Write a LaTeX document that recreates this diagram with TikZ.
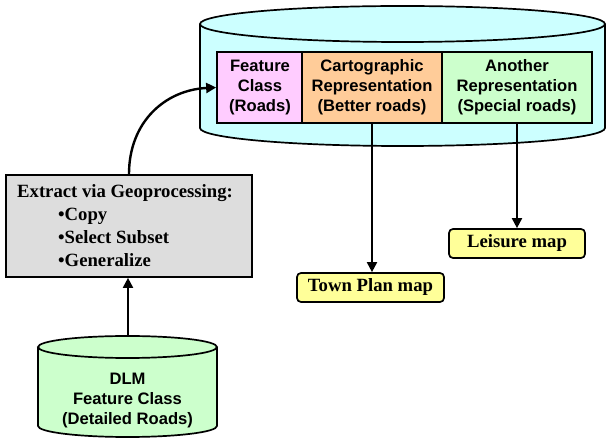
\documentclass[tikz,border=0pt]{standalone}
\usepackage{fontspec}
\setmainfont{Liberation Serif}
\setsansfont{Liberation Sans}
\usetikzlibrary{arrows.meta}

\definecolor{dbcyan}{HTML}{CCFFFF}
\definecolor{fcpink}{HTML}{FFCCFF}
\definecolor{reporange}{HTML}{FFCC99}
\definecolor{repgreen}{HTML}{CCFFCC}
\definecolor{mapyellow}{HTML}{FFFF99}
\definecolor{procgray}{HTML}{DDDDDD}

\tikzset{
  rep/.style={draw, line width=1.7pt, minimum height=71pt, inner sep=0pt,
    align=center, font=\sffamily\bfseries\fontsize{16.6}{20}\selectfont},
  mapbox/.style={draw, line width=1.7pt, fill=mapyellow, rounded corners=4pt,
    minimum height=29pt, inner sep=0pt,
    font=\rmfamily\bfseries\fontsize{18.7}{23}\selectfont},
  flow/.style={line width=1.9pt, -{Triangle[length=10pt,width=10pt]}},
  cyl/.style={line width=1.7pt},
}

\begin{document}
\begin{tikzpicture}[x=1pt,y=-1pt]
\useasboundingbox (0,0) rectangle (606,438);

% geodatabase holding the feature class and its representations
\fill[dbcyan] (200,24) -- (200,128)
  arc[start angle=180,end angle=360,x radius=202.5pt,y radius=18pt]
  -- (605,24) -- cycle;
\draw[cyl] (200,24) -- (200,128)
  arc[start angle=180,end angle=360,x radius=202.5pt,y radius=18pt]
  -- (605,24);
\draw[cyl, fill=dbcyan] (402.5,24) ellipse[x radius=202.5pt,y radius=18pt];

\node[rep, fill=fcpink, minimum width=86pt] (fc) at (260,87.5)
  {Feature\\Class\\(Roads)};
\node[rep, fill=reporange, minimum width=140pt] (cart) at (372,87.5)
  {Cartographic\\Representation\\(Better roads)};
\node[rep, fill=repgreen, minimum width=150pt] (other) at (517,87.5)
  {Another\\Representation\\(Special roads)};

% output maps
\node[mapbox, minimum width=147pt] (town) at (370.5,287.5) {Town Plan map};
\node[mapbox, minimum width=136pt] (leisure) at (517,243.5) {Leisure map};

% geoprocessing step
\node[draw, line width=1.7pt, fill=procgray, minimum width=246pt,
  minimum height=102pt, inner sep=0pt] (extract) at (129,226) {};
\node[anchor=north west, inner sep=0pt, align=left,
  font=\rmfamily\bfseries\fontsize{18.7}{23}\selectfont] (steps) at (17,184)
  {Extract via Geoprocessing:\\
   \hspace*{41pt}•Copy\\
   \hspace*{41pt}•Select Subset\\
   \hspace*{41pt}•Generalize};

% detailed source feature class
\fill[repgreen] (38,347) -- (38,426)
  arc[start angle=180,end angle=360,x radius=89.5pt,y radius=11pt]
  -- (217,347) -- cycle;
\draw[cyl] (38,347) -- (38,426)
  arc[start angle=180,end angle=360,x radius=89.5pt,y radius=11pt]
  -- (217,347);
\draw[cyl, fill=repgreen] (127.5,347) ellipse[x radius=89.5pt,y radius=11pt];
\coordinate (dlmtop) at (128,336);
\node[align=center, inner sep=0pt,
  font=\sffamily\bfseries\fontsize{16.6}{20}\selectfont] (dlm) at (127.5,401)
  {DLM\\Feature Class\\(Detailed Roads)};

% connectors
\draw[flow] (dlmtop) -- (dlmtop |- extract.south);
\draw[flow, line width=2.4pt] (extract.north) .. controls (129,122) and (165,90) .. (fc.west);
\draw[flow] (cart.south) -- (cart.south |- town.north);
\draw[flow] (other.south) -- (other.south |- leisure.north);
\end{tikzpicture}
\end{document}
